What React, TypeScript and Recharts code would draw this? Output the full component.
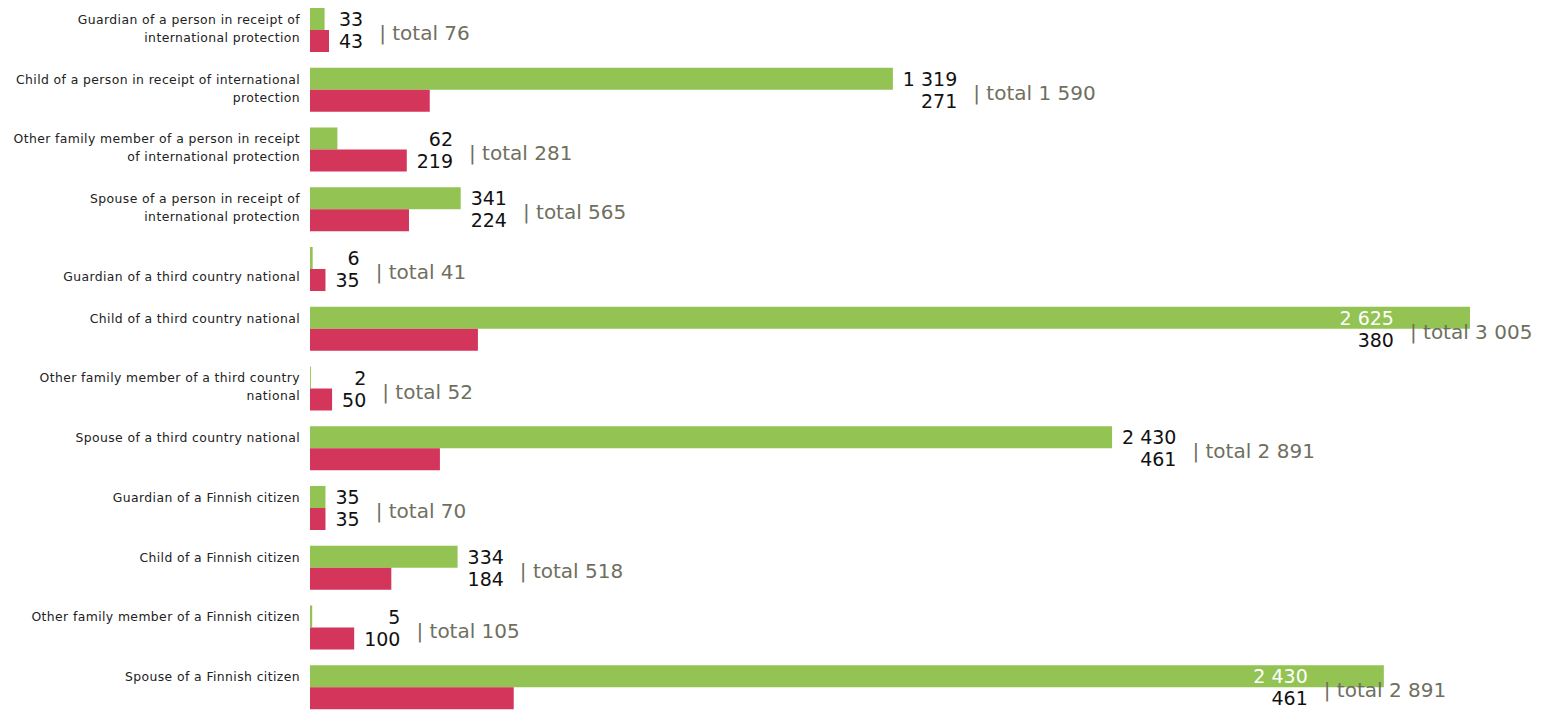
import React from 'react';
import { BarChart, Bar, XAxis, YAxis, LabelList } from 'recharts';

const categories = [
  'Guardian of a person in receipt of\ninternational protection',
  'Child of a person in receipt of international\nprotection',
  'Other family member of a person in receipt\nof international protection',
  'Spouse of a person in receipt of\ninternational protection',
  '\nGuardian of a third country national',
  'Child of a third country national',
  'Other family member of a third country\nnational',
  'Spouse of a third country national',
  'Guardian of a Finnish citizen',
  'Child of a Finnish citizen',
  'Other family member of a Finnish citizen',
  'Spouse of a Finnish citizen',
];

// bar lengths as drawn
const greenBar = [33, 1319, 62, 341, 6, 2625, 2, 1815, 35, 334, 5, 2430];
const redBar = [43, 271, 219, 224, 35, 380, 50, 294, 35, 184, 100, 461];

// numbers as printed next to the bars
const greenShown = [33, 1319, 62, 341, 6, 2625, 2, 2430, 35, 334, 5, 2430];
const redShown = [43, 271, 219, 224, 35, 380, 50, 461, 35, 184, 100, 461];
const totalShown = [76, 1590, 281, 565, 41, 3005, 52, 2891, 70, 518, 105, 2891];

const data = categories.map((name, i) => ({ name, green: greenBar[i], red: redBar[i] }));

const CHART_W = 1548;
const CHART_H = 717;
const FONT = '"DejaVu Sans", Verdana, sans-serif';
const VALUE_SIZE = 19;
const TOTAL_SIZE = 20;
const GREEN = '#92c353';
const RED = '#d4355b';
const TOTAL_COLOR = '#6f6f5f';

const fmt = (n: number) => String(n).replace(/\B(?=(\d{3})+(?!\d))/g, ' ');

// rough DejaVu Sans advance widths (em)
const charW: Record<string, number> = {
  ' ': 0.318, '|': 0.337, t: 0.392, o: 0.612, a: 0.613, l: 0.278,
};
const textW = (s: string, size: number) =>
  s.split('').reduce((w, c) => w + (charW[c] ?? 0.636), 0) * size;

const CategoryTick = (props: any) => {
  const { x, y, payload } = props;
  const lines = String(payload.value).split('\n');
  return (
    <text
      x={x}
      y={y}
      textAnchor="end"
      fontFamily={FONT}
      fontSize={12.4}
      letterSpacing={0.4}
      fill="#222"
    >
      {lines.map((l, i) => (
        <tspan key={i} x={x} y={y - 6 + i * 18}>
          {l}
        </tspan>
      ))}
    </text>
  );
};

const GroupLabel = (props: any) => {
  const vb = props.viewBox || {};
  const x = props.x ?? vb.x;
  const y = props.y ?? vb.y;
  const width = props.width ?? vb.width;
  const height = props.height ?? vb.height;
  const index = props.index;
  if (index == null || x == null) return null;

  const ratio = width / redBar[index];
  const greenEnd = x + greenBar[index] * ratio;
  const redEnd = x + width;

  const gTxt = fmt(greenShown[index]);
  const rTxt = fmt(redShown[index]);
  const tTxt = '| total ' + fmt(totalShown[index]);
  const colW = Math.max(textW(gTxt, VALUE_SIZE), textW(rTxt, VALUE_SIZE));
  const totW = textW(tTxt, TOTAL_SIZE);

  let right = Math.max(greenEnd, redEnd) + 10 + colW;
  if (right + 18 + totW > CHART_W - 6) right -= totW + 18;
  const greenInside = right < greenEnd;

  const greenMid = y - height / 2;
  const redMid = y + height / 2;

  return (
    <g fontFamily={FONT}>
      <text x={right} y={greenMid + 7} textAnchor="end" fontSize={VALUE_SIZE} fill={greenInside ? '#fff' : '#111'}>
        {gTxt}
      </text>
      <text x={right} y={redMid + 7} textAnchor="end" fontSize={VALUE_SIZE} fill="#111">
        {rTxt}
      </text>
      <text x={right + 16} y={y + 10} fontSize={TOTAL_SIZE} fill={TOTAL_COLOR}>
        {tTxt}
      </text>
    </g>
  );
};

export default function App() {
  const maxBar = Math.max(...greenBar, ...redBar);
  return (
    <div style={{ position: 'absolute', left: 0, top: 0, width: CHART_W, height: CHART_H }}>
      <BarChart
        width={CHART_W}
        height={CHART_H}
        data={data}
        layout="vertical"
        margin={{ top: 0, right: 78, bottom: 0, left: 0 }}
        barSize={22}
        barGap={0}
      >
        <XAxis type="number" hide domain={[0, maxBar]} />
        <YAxis
          type="category"
          dataKey="name"
          width={310}
          axisLine={false}
          tickLine={false}
          tickSize={0}
          tickMargin={10}
          interval={0}
          tick={CategoryTick}
        />
        <Bar dataKey="green" fill={GREEN} isAnimationActive={false} />
        <Bar dataKey="red" fill={RED} isAnimationActive={false}>
          <LabelList dataKey="red" content={GroupLabel} />
        </Bar>
      </BarChart>
    </div>
  );
}
